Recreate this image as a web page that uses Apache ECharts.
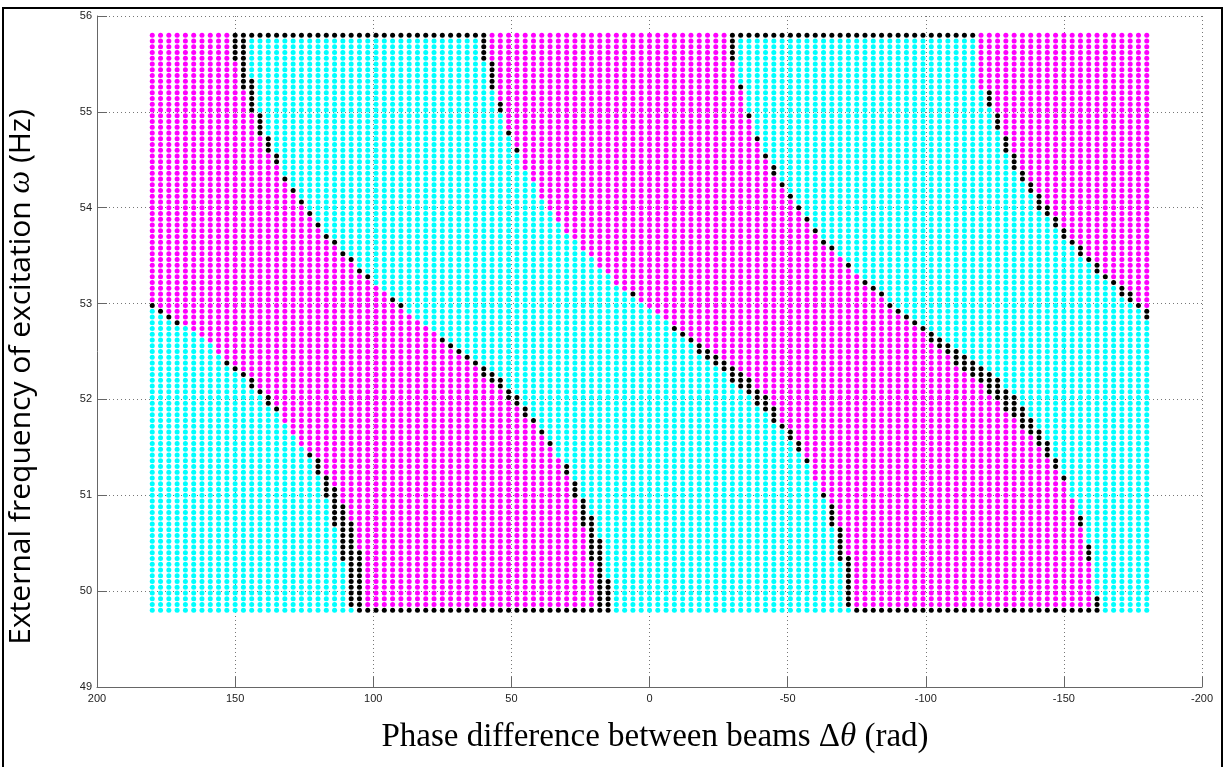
<!DOCTYPE html>
<html><head><meta charset="utf-8">
<script src="https://cdn.jsdelivr.net/npm/echarts@6/dist/echarts.min.js"></script>
<style>html,body{margin:0;padding:0;background:#fff}#c{width:1224px;height:767px}</style>
</head><body><div id="c"></div>
<script>
// ---------- axis ticks ----------
const xTicks = [200, 150, 100, 50, 0, -50, -100, -150, -200];
const yTicks = [49, 50, 51, 52, 53, 54, 55, 56];

// ---------- sampled grid (phase, frequency in Hz) ----------
const phaseStart = 180, phaseEnd = -180, phaseStep = 3;
const freqStart = 55.8, freqEnd = 49.8, freqStep = 0.06;

// ---------- colour boundaries, [frequency, phase] vertices ----------
// B, C, F : cyan on the left (larger phase), magenta on the right
// A, D    : magenta on the left, cyan on the right
const boundaryB = [[55.8,240],[54.6,228],[53.1,186],[52.98,180],[52.8,171],[52.74,165],[52.68,162],[52.59,159],[52.47,156],[52.38,153],[52.17,144],[51.9,135],[51.66,129],[51.42,123],[51.3,120],[51.09,117],[50.88,114],[50.61,111],[50.28,108],[50.04,106.5],[49.8,105]];
const boundaryA = [[55.8,150],[55.56,150],[55.32,147],[55.08,144],[54.84,141],[54.63,138],[54.48,135],[54.3,132],[54.06,126],[53.82,120],[53.64,114],[53.46,108],[53.28,102],[53.04,93],[52.98,90],[52.62,75],[52.38,63],[52.29,60],[52.17,54],[52.05,51],[51.87,45],[51.78,42],[51.66,39],[51.54,36],[51.27,30],[51.06,27],[50.82,24],[50.55,21],[50.22,18],[49.92,15],[49.8,15]];
const boundaryC = [[55.8,60],[55.56,60],[55.5,57],[55.26,57],[55.08,54],[55.02,54],[54.78,51],[54.6,48],[54.42,45],[54.27,42],[54.12,39],[54.0,36],[53.88,33],[53.76,30],[53.58,24],[53.4,18],[53.22,12],[53.1,6],[52.92,-3],[52.74,-9],[52.62,-15],[52.53,-18],[52.41,-24],[52.26,-30],[52.14,-36],[52.02,-39],[51.84,-45],[51.72,-48],[51.63,-51],[51.51,-54],[51.36,-57],[51.18,-60],[51.0,-63],[50.79,-66],[50.49,-69],[50.1,-72],[49.8,-75]];
const boundaryD = [[55.8,-30],[55.53,-30],[55.26,-33],[54.96,-36],[54.72,-39],[54.54,-42],[54.39,-45],[54.24,-48],[54.0,-54],[53.76,-60],[53.64,-63],[53.58,-66],[53.4,-72],[53.22,-78],[53.1,-84],[52.92,-90],[52.8,-96],[52.74,-99],[52.65,-102],[52.59,-105],[52.53,-108],[52.44,-111],[52.38,-114],[52.32,-117],[52.26,-120],[52.17,-123],[52.11,-126],[51.99,-129],[51.93,-132],[51.81,-135],[51.72,-138],[51.6,-141],[51.48,-144],[51.33,-147],[51.18,-150],[50.97,-153],[50.73,-156],[50.4,-159],[49.86,-162],[49.8,-162]];
const boundaryF = [[55.8,-120],[55.26,-120],[55.2,-123],[55.08,-123],[54.96,-126],[54.84,-126],[54.72,-129],[54.6,-129],[54.54,-132],[54.42,-132],[54.33,-135],[54.21,-138],[54.06,-141],[53.97,-144],[53.85,-147],[53.73,-150],[53.64,-153],[53.55,-156],[53.46,-159],[53.37,-162],[53.28,-165],[53.22,-168],[53.13,-171],[53.07,-174],[52.98,-177],[52.89,-180],[52.74,-186],[49.8,-255]];

// ---------- black points: runs along a row [frequency, phaseFrom, phaseTo] ----------
const blackRows = [[55.8,150,60],[55.8,-30,-117],[49.8,105,15],[49.8,-75,-162]];
// ---------- black points: runs down a column [phase, freqHigh, freqLow] ----------
const blackColsA = [[150,55.8,55.56],[147,55.74,55.26],[144,55.32,55.02],[141,54.96,54.78],[138,54.72,54.6],[135,54.54,54.48],[132,54.3,54.3],[129,54.18,54.18],[126,54.06,54.06],[123,53.94,53.94],[120,53.82,53.82],[117,53.7,53.7],[114,53.64,53.64],[111,53.52,53.52],[108,53.46,53.46],[105,53.34,53.34],[102,53.28,53.28],[93,53.04,53.04],[90,52.98,52.98],[75,52.62,52.62],[72,52.56,52.56],[69,52.5,52.5],[66,52.44,52.44],[63,52.38,52.38],[60,52.32,52.26],[57,52.26,52.2],[54,52.2,52.14],[51,52.08,52.02],[48,52.02,51.96],[45,51.9,51.84],[42,51.78,51.78],[39,51.66,51.66],[36,51.54,51.54],[30,51.3,51.24],[27,51.12,51.0],[24,50.94,50.7],[21,50.76,50.34],[18,50.52,49.8],[15,50.1,49.8]];
const blackColsB = [[180,52.98,52.98],[177,52.92,52.92],[174,52.86,52.86],[171,52.8,52.8],[153,52.38,52.38],[150,52.32,52.32],[147,52.26,52.26],[144,52.2,52.14],[141,52.08,52.08],[138,52.02,51.96],[135,51.9,51.9],[123,51.42,51.42],[120,51.36,51.24],[117,51.18,51.0],[114,51.06,50.7],[111,50.88,50.34],[108,50.7,49.86],[105,50.4,49.8]];
const blackColsC = [[60,55.8,55.56],[57,55.5,55.26],[54,55.08,55.02],[51,54.78,54.78],[48,54.6,54.6],[6,53.1,53.1],[-9,52.74,52.74],[-12,52.68,52.68],[-15,52.62,52.62],[-18,52.56,52.5],[-21,52.5,52.44],[-24,52.44,52.38],[-27,52.38,52.32],[-30,52.32,52.2],[-33,52.26,52.14],[-36,52.2,52.08],[-39,52.08,51.96],[-42,52.02,51.9],[-45,51.9,51.78],[-48,51.72,51.72],[-51,51.66,51.6],[-54,51.54,51.48],[-57,51.36,51.36],[-63,51.0,51.0],[-66,50.88,50.7],[-69,50.64,50.34],[-72,50.34,49.86]];
const blackColsD = [[-30,55.8,55.56],[-33,55.26,55.26],[-36,54.96,54.96],[-39,54.72,54.72],[-42,54.54,54.54],[-45,54.42,54.36],[-48,54.24,54.24],[-51,54.12,54.12],[-54,54.0,54.0],[-57,53.88,53.88],[-60,53.76,53.76],[-63,53.64,53.64],[-66,53.58,53.58],[-72,53.4,53.4],[-78,53.22,53.22],[-81,53.16,53.16],[-84,53.1,53.1],[-87,52.98,52.98],[-90,52.92,52.92],[-93,52.86,52.86],[-96,52.8,52.8],[-99,52.74,52.74],[-102,52.68,52.62],[-105,52.62,52.56],[-108,52.56,52.5],[-111,52.5,52.38],[-114,52.44,52.32],[-117,52.38,52.26],[-120,52.32,52.2],[-123,52.26,52.08],[-126,52.2,52.02],[-129,52.08,51.9],[-132,52.02,51.84],[-135,51.9,51.72],[-138,51.78,51.66],[-141,51.66,51.54],[-144,51.54,51.42],[-147,51.36,51.3],[-150,51.18,51.18],[-156,50.76,50.7],[-159,50.46,50.34],[-162,49.92,49.8]];
const blackColsF = [[-123,55.2,55.08],[-126,54.96,54.84],[-129,54.72,54.6],[-132,54.54,54.42],[-135,54.36,54.3],[-138,54.24,54.18],[-141,54.12,54.0],[-144,54.0,53.94],[-147,53.88,53.82],[-150,53.76,53.7],[-153,53.64,53.64],[-156,53.58,53.52],[-159,53.46,53.46],[-162,53.4,53.34],[-165,53.28,53.28],[-168,53.22,53.22],[-171,53.16,53.1],[-174,53.1,53.04],[-177,52.98,52.98],[-180,52.92,52.86]];

// ---------- titles ----------
const xTitle = 'Phase difference between beams Δ{i|θ} (rad)';
const yTitle = 'External frequency of excitation {i|ω} (Hz)';

// ---------- build the point sets ----------
const boundaries = [boundaryB, boundaryA, boundaryC, boundaryD, boundaryF];
const blackCols = [].concat(blackColsA, blackColsB, blackColsC, blackColsD, blackColsF);
const EPS = 1e-6;
function phaseAt(b, f) {
  if (f >= b[0][0] - EPS) return b[0][1];
  for (let k = 1; k < b.length; k++) {
    if (f >= b[k][0] - EPS) {
      const f0 = b[k-1][0], p0 = b[k-1][1], f1 = b[k][0], p1 = b[k][1];
      return p0 + (p1 - p0) * (f0 - f) / (f0 - f1);
    }
  }
  return b[b.length-1][1];
}
function isBlack(x, f) {
  for (const [p, hi, lo] of blackCols) if (p === x && f <= hi + EPS && f >= lo - EPS) return true;
  for (const [fr, p1, p2] of blackRows) if (Math.abs(fr - f) < EPS && x <= p1 && x >= p2) return true;
  return false;
}
const magentaPts = [], cyanPts = [], blackPts = [];
const nCols = Math.round((phaseStart - phaseEnd) / phaseStep);
const nRows = Math.round((freqStart - freqEnd) / freqStep);
for (let i = 0; i <= nCols; i++) {
  const x = phaseStart - i * phaseStep;
  for (let j = 0; j <= nRows; j++) {
    const f = Math.round((freqStart - j * freqStep) * 100) / 100;
    if (isBlack(x, f)) { blackPts.push([x, f]); continue; }
    let cnt = 0;
    for (const b of boundaries) if (x <= phaseAt(b, f) + EPS) cnt++;
    (cnt % 2 === 1 ? magentaPts : cyanPts).push([x, f]);
  }
}

const chart = echarts.init(document.getElementById('c'), null, {renderer: 'canvas'});
const tickFont = {fontFamily: 'Liberation Sans, Arial, sans-serif', fontSize: 11, color: '#222'};
const gridLine = {show: true, lineStyle: {color: '#777', type: [1, 3], width: 1}};
const mk = (name, data, color) => ({
  name, type: 'scatter', data, symbol: 'circle', symbolSize: 5, silent: true,
  itemStyle: {color, opacity: 1}, animation: false
});
chart.setOption({
  animation: false,
  backgroundColor: '#fff',
  grid: {left: 97, right: 22, top: 16, bottom: 80, containLabel: false},
  xAxis: {
    type: 'value', inverse: true, min: -200, max: 200, interval: 50,
    axisLine: {show: true, onZero: false, lineStyle: {color: '#666', width: 1}},
    axisTick: {show: true, inside: true, length: 10, lineStyle: {color: '#666'}},
    axisLabel: Object.assign({margin: 6, formatter: v => xTicks.includes(v) ? String(v) : ''}, tickFont),
    splitLine: gridLine
  },
  yAxis: {
    type: 'value', min: 49, max: 56, interval: 1,
    axisLine: {show: true, onZero: false, lineStyle: {color: '#666', width: 1}},
    axisTick: {show: true, inside: true, length: 10, lineStyle: {color: '#666'}},
    axisLabel: Object.assign({margin: 5, formatter: v => yTicks.includes(v) ? String(v) : ''}, tickFont),
    splitLine: gridLine
  },
  series: [mk('magenta', magentaPts, '#ff00ff'), mk('cyan', cyanPts, '#00ffff'), mk('black', blackPts, '#000000')],
  graphic: [
    {type: 'text', x: 655, y: 737, silent: true,
      style: {text: xTitle, fontFamily: 'Liberation Serif, Times New Roman, serif', fontSize: 33, fill: '#000',
        align: 'center', verticalAlign: 'middle',
        rich: {i: {fontFamily: 'Liberation Serif, serif', fontStyle: 'italic', fontSize: 33, fill: '#000'}}}},
    {type: 'text', x: 21, y: 377, rotation: Math.PI / 2, silent: true,
      style: {text: yTitle, fontFamily: 'Open Sans, Noto Sans, sans-serif', fontSize: 30, fill: '#000',
        align: 'center', verticalAlign: 'middle',
        rich: {i: {fontFamily: 'Liberation Serif, serif', fontStyle: 'italic', fontSize: 32, fill: '#000'}}}},
    {type: 'line', shape: {x1: 2, y1: 8, x2: 1223, y2: 8}, style: {stroke: '#000', lineWidth: 2}, silent: true},
    {type: 'line', shape: {x1: 3, y1: 7, x2: 3, y2: 767}, style: {stroke: '#000', lineWidth: 2}, silent: true},
    {type: 'line', shape: {x1: 1222, y1: 7, x2: 1222, y2: 767}, style: {stroke: '#000', lineWidth: 2}, silent: true}
  ]
});
</script>
</body></html>
